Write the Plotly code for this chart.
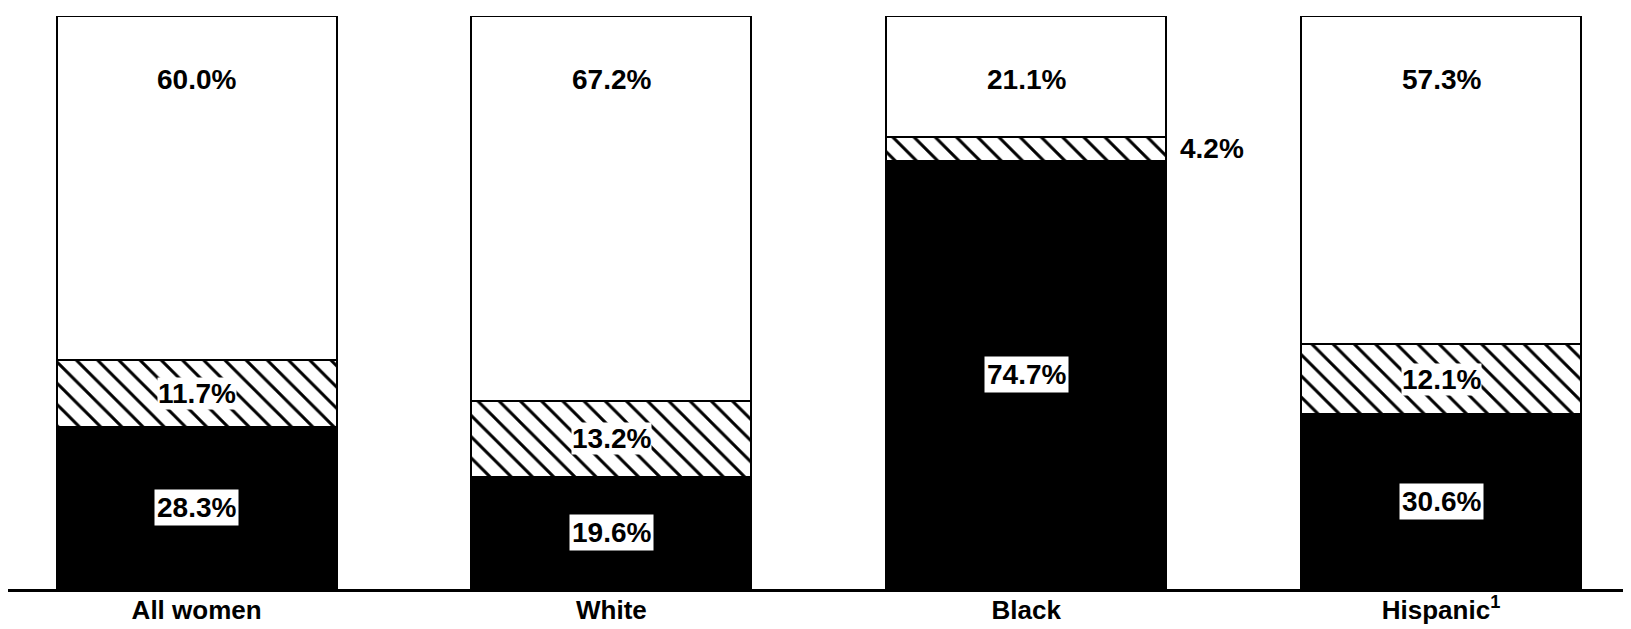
import plotly.graph_objects as go

categories = ["All women", "White", "Black", "Hispanic<sup>1</sup>"]
black_vals = [28.3, 19.6, 74.7, 30.6]
hatched_vals = [11.7, 13.2, 4.2, 12.1]
white_vals = [60.0, 67.2, 21.1, 57.3]

x = list(range(len(categories)))
BAR_W = 0.675
FONT = dict(family="Liberation Sans, Arial, sans-serif", size=28, color="black", weight="bold")
CAT_FONT = dict(family="Liberation Sans, Arial, sans-serif", size=26, color="black", weight="bold")

fig = go.Figure()
fig.add_trace(go.Bar(x=x, y=black_vals, width=BAR_W, marker=dict(color="black", line=dict(color="black", width=2)),
                     showlegend=False, hoverinfo="skip"))
fig.add_trace(go.Bar(x=x, y=hatched_vals, width=BAR_W,
                     marker=dict(color="white", line=dict(color="black", width=2),
                                 pattern=dict(shape="\\", fgcolor="black", bgcolor="white", fgopacity=1,
                                              size=15, solidity=0.2)),
                     showlegend=False, hoverinfo="skip"))
fig.add_trace(go.Bar(x=x, y=white_vals, width=BAR_W, marker=dict(color="white", line=dict(color="black", width=2)),
                     showlegend=False, hoverinfo="skip"))

annotations = []
for i, (b, h, w) in enumerate(zip(black_vals, hatched_vals, white_vals)):
    top = b + h + w
    # white segment label near top
    annotations.append(dict(x=i, y=top - 11, text=f"{w:.1f}%", showarrow=False, font=FONT))
    # hatched label
    if h >= 8:
        annotations.append(dict(x=i, y=b + h / 2, text=f"{h:.1f}%", showarrow=False, font=FONT,
                                bgcolor="white", borderpad=0))
    else:
        annotations.append(dict(x=i + BAR_W / 2, y=b + h / 2, text=f"{h:.1f}%", showarrow=False, font=FONT,
                                xanchor="left", xshift=12))
    # black label
    annotations.append(dict(x=i, y=b / 2, text=f"{b:.1f}%", showarrow=False, font=FONT,
                            bgcolor="white", borderpad=2))

fig.update_layout(
    barmode="stack",
    width=1623, height=621,
    margin=dict(l=0, r=0, t=8, b=40),
    paper_bgcolor="white", plot_bgcolor="white",
    annotations=annotations,
    xaxis=dict(range=[-0.4547, 3.458], tickvals=x, ticktext=categories, showgrid=False, zeroline=False,
               showline=True, linecolor="black", linewidth=3, ticks="", tickfont=CAT_FONT, ticklabelstandoff=-4),
    yaxis=dict(range=[0, 100], visible=False, showgrid=False, zeroline=False),
)

fig.write_html("out.html")
